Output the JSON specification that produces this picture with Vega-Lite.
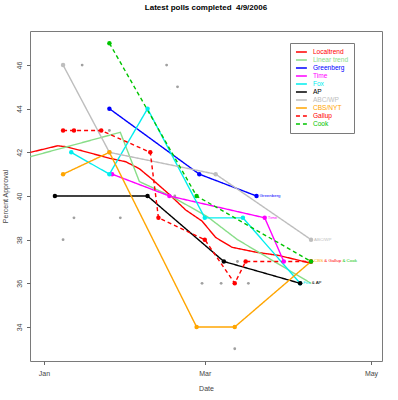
{
  "$schema": "https://vega.github.io/schema/vega-lite/v6.json",
  "width": 352,
  "height": 330,
  "autosize": "none",
  "padding": {"left": 30, "top": 31, "right": 16, "bottom": 39},
  "background": "white",
  "config": {
    "font": "Liberation Sans",
    "view": {"stroke": "#7a7a7a", "strokeWidth": 1},
    "axis": {"grid": false, "domain": false, "tickColor": "#666", "tickSize": 3.5, "labelColor": "#444", "titleColor": "#444", "labelFontSize": 7, "titleFontSize": 7, "titleFontWeight": "normal"}
  },
  "title": {"text": "Latest polls completed\u00a0 4/9/2006", "fontSize": 8, "fontWeight": "bold", "anchor": "middle", "baseline": "alphabetic", "offset": 12.7, "color": "#000"},
  "datasets": {
    "lines": [
      {"series": "Localtrend", "date": "2005-12-27", "v": 42.0},
      {"series": "Localtrend", "date": "2006-01-06", "v": 42.3},
      {"series": "Localtrend", "date": "2006-01-09", "v": 42.26},
      {"series": "Localtrend", "date": "2006-01-15", "v": 42.07},
      {"series": "Localtrend", "date": "2006-01-25", "v": 41.73},
      {"series": "Localtrend", "date": "2006-01-31", "v": 41.57},
      {"series": "Localtrend", "date": "2006-02-05", "v": 41.25},
      {"series": "Localtrend", "date": "2006-02-10", "v": 40.73},
      {"series": "Localtrend", "date": "2006-02-16", "v": 40.07},
      {"series": "Localtrend", "date": "2006-02-22", "v": 39.36},
      {"series": "Localtrend", "date": "2006-02-28", "v": 38.85},
      {"series": "Localtrend", "date": "2006-03-05", "v": 38.1},
      {"series": "Localtrend", "date": "2006-03-11", "v": 37.65},
      {"series": "Localtrend", "date": "2006-03-20", "v": 37.42},
      {"series": "Localtrend", "date": "2006-03-28", "v": 37.28},
      {"series": "Localtrend", "date": "2006-04-09", "v": 36.92},
      {"series": "Linear trend", "date": "2005-12-27", "v": 41.8},
      {"series": "Linear trend", "date": "2006-01-29", "v": 42.92},
      {"series": "Linear trend", "date": "2006-02-05", "v": 40.66},
      {"series": "Linear trend", "date": "2006-02-17", "v": 39.97},
      {"series": "Linear trend", "date": "2006-03-02", "v": 39.05},
      {"series": "Linear trend", "date": "2006-03-13", "v": 38.0},
      {"series": "Linear trend", "date": "2006-04-09", "v": 36.0},
      {"series": "Greenberg", "date": "2006-01-25", "v": 44},
      {"series": "Greenberg", "date": "2006-02-27", "v": 41},
      {"series": "Greenberg", "date": "2006-03-20", "v": 40},
      {"series": "Time", "date": "2006-01-26", "v": 41},
      {"series": "Time", "date": "2006-02-16", "v": 40},
      {"series": "Time", "date": "2006-03-23", "v": 39},
      {"series": "Time", "date": "2006-03-30", "v": 37},
      {"series": "Fox", "date": "2006-01-11", "v": 42},
      {"series": "Fox", "date": "2006-01-25", "v": 41},
      {"series": "Fox", "date": "2006-02-08", "v": 44},
      {"series": "Fox", "date": "2006-03-01", "v": 39},
      {"series": "Fox", "date": "2006-03-15", "v": 39},
      {"series": "Fox", "date": "2006-04-05", "v": 36},
      {"series": "AP", "date": "2006-01-05", "v": 40},
      {"series": "AP", "date": "2006-02-08", "v": 40},
      {"series": "AP", "date": "2006-03-08", "v": 37},
      {"series": "AP", "date": "2006-04-05", "v": 36},
      {"series": "ABC/WP", "date": "2006-01-08", "v": 46},
      {"series": "ABC/WP", "date": "2006-01-25", "v": 42},
      {"series": "ABC/WP", "date": "2006-03-05", "v": 41},
      {"series": "ABC/WP", "date": "2006-04-09", "v": 38},
      {"series": "CBS/NYT", "date": "2006-01-08", "v": 41},
      {"series": "CBS/NYT", "date": "2006-01-25", "v": 42},
      {"series": "CBS/NYT", "date": "2006-02-26", "v": 34},
      {"series": "CBS/NYT", "date": "2006-03-12", "v": 34},
      {"series": "CBS/NYT", "date": "2006-04-09", "v": 37},
      {"series": "Gallup", "date": "2006-01-08", "v": 43},
      {"series": "Gallup", "date": "2006-01-12", "v": 43},
      {"series": "Gallup", "date": "2006-01-22", "v": 43},
      {"series": "Gallup", "date": "2006-02-09", "v": 42},
      {"series": "Gallup", "date": "2006-02-12", "v": 39},
      {"series": "Gallup", "date": "2006-03-01", "v": 38},
      {"series": "Gallup", "date": "2006-03-12", "v": 36},
      {"series": "Gallup", "date": "2006-03-16", "v": 37},
      {"series": "Gallup", "date": "2006-04-09", "v": 37},
      {"series": "Cook", "date": "2006-01-25", "v": 47},
      {"series": "Cook", "date": "2006-02-26", "v": 40},
      {"series": "Cook", "date": "2006-04-09", "v": 37}
    ],
    "others": [
      {"date": "2006-01-15", "v": 46},
      {"date": "2006-02-15", "v": 46},
      {"date": "2006-02-19", "v": 45},
      {"date": "2006-01-25", "v": 43},
      {"date": "2006-01-12", "v": 39},
      {"date": "2006-01-29", "v": 39},
      {"date": "2006-01-08", "v": 38},
      {"date": "2006-02-18", "v": 40},
      {"date": "2006-02-28", "v": 36},
      {"date": "2006-03-07", "v": 36},
      {"date": "2006-03-17", "v": 36},
      {"date": "2006-03-13", "v": 37},
      {"date": "2006-03-12", "v": 33}
    ],
    "labels": [
      {"label": "Greenberg", "series": "Greenberg", "date": "2006-03-20", "v": 40},
      {"label": "Time", "series": "Time", "date": "2006-03-23", "v": 39},
      {"label": "ABC/WP", "series": "ABC/WP", "date": "2006-04-09", "v": 38},
      {"label": "CBS", "series": "CBS/NYT", "date": "2006-04-09", "v": 37},
      {"label": "Fox", "series": "Fox", "date": "2006-04-05", "v": 36},
      {"label": "& Gallup", "series": "Gallup", "date": "2006-04-09", "v": 37},
      {"label": "& Cook", "series": "Cook", "date": "2006-04-09", "v": 37},
      {"label": "& AP", "series": "AP", "date": "2006-04-05", "v": 36}
    ]
  },
  "encoding": {
    "x": {
      "field": "date", "type": "temporal",
      "scale": {"type": "utc", "domain": [{"year": 2005, "month": 12, "date": 26, "hours": 20, "minutes": 40, "utc": true}, {"year": 2006, "month": 5, "date": 5, "hours": 1, "utc": true}]},
      "axis": {
        "values": [{"year": 2006, "month": 1, "date": 1, "utc": true}, {"year": 2006, "month": 3, "date": 1, "utc": true}, {"year": 2006, "month": 5, "date": 1, "utc": true}],
        "format": "%b", "title": "Date", "labelBaseline": "alphabetic", "labelPadding": 11.2, "labelFlush": false, "labelOverlap": false,
        "titleBaseline": "alphabetic", "titleY": 29.7, "titleAnchor": "middle"
      }
    },
    "y": {
      "field": "v", "type": "quantitative",
      "scale": {"domain": [32.44, 47.56], "nice": false, "zero": false},
      "axis": {
        "values": [34, 36, 38, 40, 42, 44, 46], "title": "Percent Approval",
        "labelAngle": -90, "labelAlign": "center", "labelBaseline": "alphabetic", "labelPadding": 4.8, "labelOverlap": false, "labelFlush": false,
        "titleAngle": -90, "titleAlign": "center", "titleBaseline": "alphabetic", "titleX": -22.7, "titleY": 165
      }
    }
  },
  "layer": [
    {
      "data": {"name": "others"},
      "mark": {"type": "circle", "size": 8, "color": "#a0a0a0", "opacity": 1}
    },
    {
      "data": {"name": "lines"},
      "mark": {"type": "line", "strokeWidth": 1.4},
      "encoding": {
        "color": {
          "field": "series", "type": "nominal",
          "scale": {
            "domain": ["Localtrend", "Linear trend", "Greenberg", "Time", "Fox", "AP", "ABC/WP", "CBS/NYT", "Gallup", "Cook"],
            "range": ["#ff0000", "#88dd88", "#0000ff", "#ff00ff", "#00eeee", "#000000", "#bebebe", "#ffa500", "#ff0000", "#00c400"]
          },
          "legend": {
            "orient": "none", "legendX": 260, "legendY": 12, "title": null,
            "symbolType": "M-1,0H2.6", "symbolSize": 36.7, "symbolStrokeWidth": 1.5,
            "labelFontSize": 6.6, "labelOffset": 9.9, "padding": 5, "rowPadding": 0,
            "strokeColor": "#7a7a7a", "fillColor": "white", "labelLimit": 200,
            "encode": {
              "labels": {"update": {"fill": {"scale": "color", "field": "value"}}},
              "symbols": {"update": {"fill": {"value": "transparent"}}}
            }
          }
        },
        "strokeDash": {
          "field": "series", "type": "nominal",
          "scale": {
            "domain": ["Localtrend", "Linear trend", "Greenberg", "Time", "Fox", "AP", "ABC/WP", "CBS/NYT", "Gallup", "Cook"],
            "range": [[1, 0], [1, 0], [1, 0], [1, 0], [1, 0], [1, 0], [1, 0], [1, 0], [4, 3], [4, 3]]
          },
          "legend": {"orient": "none", "legendX": 260, "legendY": 12, "title": null}
        }
      }
    },
    {
      "data": {"name": "lines"},
      "transform": [{"filter": "datum.series != 'Localtrend' && datum.series != 'Linear trend'"}],
      "mark": {"type": "point", "filled": true, "shape": "circle", "size": 20, "opacity": 1},
      "encoding": {
        "color": {"field": "series", "type": "nominal", "legend": null}
      }
    },
    {
      "data": {"name": "labels"},
      "transform": [{"filter": "datum.label == 'Greenberg' || datum.label == 'Time' || datum.label == 'ABC/WP' || datum.label == 'CBS' || datum.label == 'Fox'"}],
      "mark": {"type": "text", "align": "left", "baseline": "middle", "dx": 3, "fontSize": 4.4},
      "encoding": {"text": {"field": "label"}, "color": {"field": "series", "type": "nominal", "legend": null}}
    },
    {
      "data": {"name": "labels"},
      "transform": [{"filter": "datum.label == '& Gallup'"}],
      "mark": {"type": "text", "align": "left", "baseline": "middle", "dx": 13.3, "fontSize": 4.4},
      "encoding": {"text": {"field": "label"}, "color": {"field": "series", "type": "nominal", "legend": null}}
    },
    {
      "data": {"name": "labels"},
      "transform": [{"filter": "datum.label == '& Cook'"}],
      "mark": {"type": "text", "align": "left", "baseline": "middle", "dx": 31.4, "fontSize": 4.4},
      "encoding": {"text": {"field": "label"}, "color": {"field": "series", "type": "nominal", "legend": null}}
    },
    {
      "data": {"name": "labels"},
      "transform": [{"filter": "datum.label == '& AP'"}],
      "mark": {"type": "text", "align": "left", "baseline": "middle", "dx": 11.6, "fontSize": 4.4},
      "encoding": {"text": {"field": "label"}, "color": {"field": "series", "type": "nominal", "legend": null}}
    }
  ]
}
